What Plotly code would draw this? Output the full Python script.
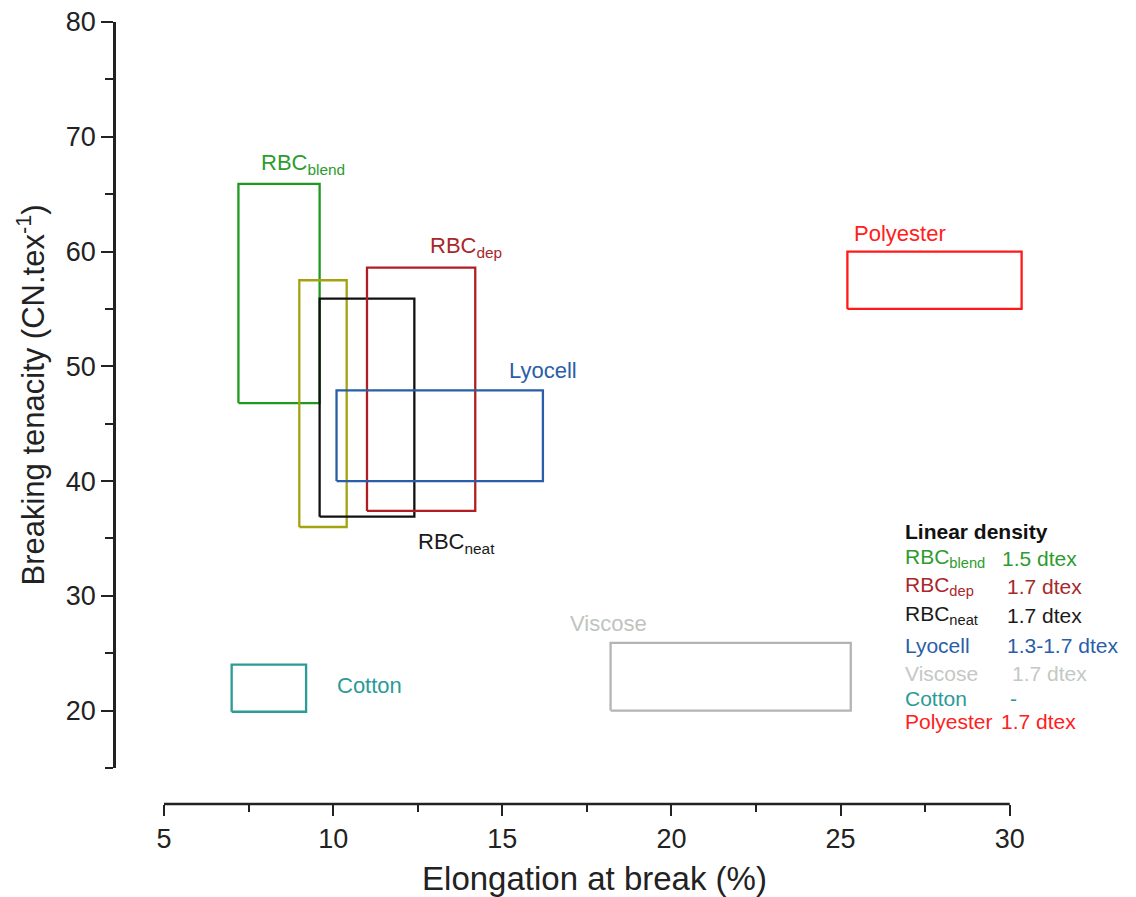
import plotly.graph_objects as go

# ---- data: property ranges of each fibre (elongation %, tenacity cN/tex) ----
fibres      = ["RBC<sub>blend</sub>", "olive", "RBC<sub>neat</sub>", "RBC<sub>dep</sub>",
               "Lyocell", "Viscose", "Cotton", "Polyester"]
elong_min   = [7.2, 9.0, 9.6, 11.0, 10.1, 18.2, 7.0, 25.2]
elong_max   = [9.6, 10.4, 12.4, 14.2, 16.2, 25.3, 9.2, 30.35]
tenac_min   = [46.8, 36.0, 36.9, 37.4, 40.0, 20.0, 19.9, 55.0]
tenac_max   = [65.9, 57.5, 55.9, 58.6, 47.9, 25.9, 24.0, 60.0]
box_colors  = ["#1f9a1f", "#a3a312", "#111111", "#b01e24", "#2a5ea8",
               "#b4b4b4", "#2a9b96", "#ff1a1a"]

# legend table: name, linear density, colour
legend_names  = ["RBC<sub>blend</sub>", "RBC<sub>dep</sub>", "RBC<sub>neat</sub>", "Lyocell",
                 "Viscose", "Cotton", "Polyester"]
legend_values = ["1.5 dtex", "1.7 dtex", "1.7 dtex", "1.3-1.7 dtex", "1.7 dtex", "-", "1.7 dtex"]
legend_colors = ["#2e9b2e", "#a8282c", "#1a1a1a", "#2a5ea8", "#c4c8c4", "#2a9b96", "#ff2020"]

x_ticks = [5, 10, 15, 20, 25, 30]
x_minor = [7.5, 12.5, 17.5, 22.5, 27.5]
y_ticks = [20, 30, 40, 50, 60, 70, 80]
y_minor = [15, 25, 35, 45, 55, 65, 75]

W, H = 1136, 897
ML, MR, MT, MB = 114, 111, 22, 93
PW, PH = W - ML - MR, H - MT - MB
AX = "#222222"
FONT = "Arial, Liberation Sans, sans-serif"


def px_x(p):
    return (p - ML) / PW


def px_y(p):
    return (H - MB - p) / PH


fig = go.Figure()

for i, name in enumerate(fibres):
    x0, x1 = elong_min[i], elong_max[i]
    y0, y1 = tenac_min[i], tenac_max[i]
    fig.add_trace(go.Scatter(
        x=[x0, x1, x1, x0, x0], y=[y0, y0, y1, y1, y0],
        mode="lines", line=dict(color=box_colors[i], width=2.3),
        name=name, showlegend=False, hoverinfo="skip"))

# labels next to the boxes
box_labels = [
    ("RBC<sub>blend</sub>", 7.8, 67.6, "#2e9b2e"),
    ("RBC<sub>dep</sub>", 12.8, 60.4, "#a8282c"),
    ("Lyocell", 15.13, 49.6, "#2a5ea8"),
    ("Polyester", 25.35, 61.6, "#ff2020"),
    ("RBC<sub>neat</sub>", 12.45, 34.6, "#1a1a1a"),
    ("Viscose", 16.95, 27.6, "#c0c4c0"),
    ("Cotton", 10.05, 22.2, "#2a9b96"),
]
annotations = []
for txt, x, y, c in box_labels:
    annotations.append(dict(text=txt, x=x, y=y, xref="x", yref="y",
                            xanchor="left", yanchor="middle", showarrow=False,
                            font=dict(family=FONT, size=22, color=c)))

# legend block (text only)
annotations.append(dict(text="<b>Linear density</b>", x=px_x(903), y=px_y(531),
                        xref="paper", yref="paper", xanchor="left", yanchor="middle",
                        showarrow=False, font=dict(family=FONT, size=21, color="#111111")))
row_y = [558, 586, 615, 645, 673, 698, 721]
val_x = [1000, 1005, 1005, 1005, 1010, 1008, 999]
for i, nm in enumerate(legend_names):
    annotations.append(dict(text=nm, x=px_x(903), y=px_y(row_y[i]), xref="paper", yref="paper",
                            xanchor="left", yanchor="middle", showarrow=False,
                            font=dict(family=FONT, size=21, color=legend_colors[i])))
    annotations.append(dict(text=legend_values[i], x=px_x(val_x[i]), y=px_y(row_y[i]),
                            xref="paper", yref="paper", xanchor="left", yanchor="middle",
                            showarrow=False,
                            font=dict(family=FONT, size=21, color=legend_colors[i])))

fig.update_layout(
    width=W, height=H,
    margin=dict(l=ML, r=MR, t=MT, b=MB, pad=0),
    paper_bgcolor="white", plot_bgcolor="white",
    showlegend=False,
    font=dict(family=FONT, color=AX),
    annotations=annotations,
    shapes=[dict(type="line", xref="x", yref="paper", x0=x_ticks[0], x1=x_ticks[-1],
                 y0=0, y1=0, line=dict(color=AX, width=2.5), layer="above")],
    xaxis=dict(
        domain=[px_x(164), 1], range=[5, 30.45],
        anchor="free", position=0, automargin=False,
        tickmode="array", tickvals=x_ticks,
        ticks="outside", ticklen=11, tickwidth=2, tickcolor=AX,
        minor=dict(tickmode="array", tickvals=x_minor, ticks="outside",
                   ticklen=7, tickwidth=2, tickcolor=AX),
        showline=False, showgrid=False, zeroline=False,
        tickfont=dict(family=FONT, size=27, color=AX),
        title=dict(text="Elongation at break (%)",
                   font=dict(family=FONT, size=33, color=AX), standoff=14),
    ),
    yaxis=dict(
        domain=[px_y(768), 1], range=[15, 80],
        anchor="free", position=0, automargin=False,
        tickmode="array", tickvals=y_ticks,
        ticks="outside", ticklen=12, tickwidth=2, tickcolor=AX,
        minor=dict(tickmode="array", tickvals=y_minor, ticks="outside",
                   ticklen=8, tickwidth=2, tickcolor=AX),
        showline=True, linewidth=2.5, linecolor=AX,
        showgrid=False, zeroline=False,
        tickfont=dict(family=FONT, size=27, color=AX),
        title=dict(text="Breaking tenacity (CN.tex<sup>-1</sup>)",
                   font=dict(family=FONT, size=31, color=AX), standoff=10),
    ),
)

fig.write_html("out.html")
